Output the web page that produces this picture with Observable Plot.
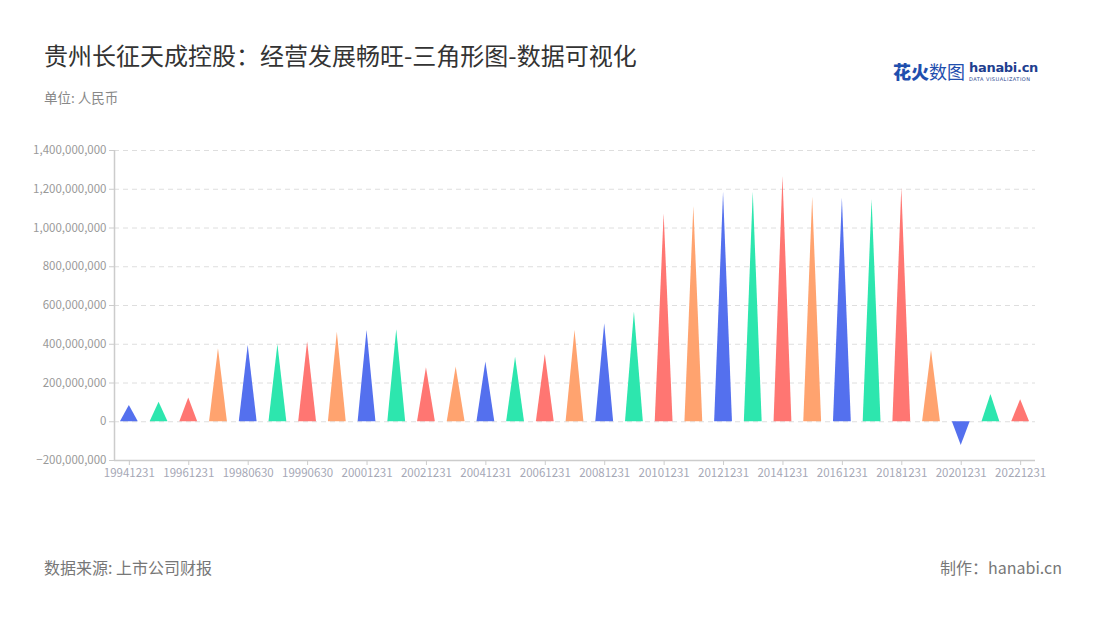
<!DOCTYPE html>
<html>
<head>
<meta charset="utf-8">
<script src="https://cdn.jsdelivr.net/npm/d3@7"></script>
<script src="https://cdn.jsdelivr.net/npm/@observablehq/plot@0.6"></script>
<style>
  html, body { margin: 0; padding: 0; background: #fff; }
  #wrap { position: relative; width: 1100px; height: 620px; font-family: "Noto Sans CJK SC", "Noto Sans", sans-serif; overflow: hidden; }
  #title { position: absolute; left: 44px; top: 37px; font-size: 24px; color: #333; white-space: nowrap; }
  #subtitle { position: absolute; left: 44px; top: 87px; font-size: 13.5px; color: #888; }
  #source { position: absolute; left: 44px; top: 555px; font-size: 16px; color: #777; }
  #maker { position: absolute; right: 38px; top: 555px; font-size: 16px; color: #777; }
  #logo { position: absolute; left: 893px; top: 60px; white-space: nowrap; }
  #logo .cn { font-size: 18px; color: #1f4fae; vertical-align: top; line-height: 22px; }
  #logo .cn b { font-weight: 900; }
  #logo .en { display: inline-block; margin-left: 4px; vertical-align: top; }
  #logo .en .a { font-size: 13px; font-weight: 700; color: #1f3f8f; font-family: "DejaVu Sans", sans-serif; line-height: 16px; letter-spacing: -0.3px; }
  #logo .en .b { font-size: 5px; color: #1f3f8f; letter-spacing: 0.5px; line-height: 6px; font-family: "DejaVu Sans", sans-serif; }
  #chart { position: absolute; left: 0; top: 120px; }
</style>
</head>
<body>
<div id="wrap">
  <div id="title">贵州长征天成控股：经营发展畅旺-三角形图-数据可视化</div>
  <div id="subtitle">单位: 人民币</div>
  <div id="logo"><span class="cn"><b>花火</b>数图</span><span class="en"><div class="a">hanabi.cn</div><div class="b">DATA VISUALIZATION</div></span></div>
  <div id="chart"></div>
  <div id="source">数据来源: 上市公司财报</div>
  <div id="maker">制作：hanabi.cn</div>
</div>
<script>
const categories = [
  "19941231","19951231","19961231","19971231","19980630","19981231","19990630","19991231",
  "20001231","20011231","20021231","20031231","20041231","20051231","20061231","20071231",
  "20081231","20091231","20101231","20111231","20121231","20131231","20141231","20151231",
  "20161231","20171231","20181231","20191231","20201231","20211231","20221231"
];
const values = [
  84e6, 101e6, 122e6, 377e6, 394e6, 397e6, 411e6, 462e6,
  471e6, 475e6, 279e6, 282e6, 308e6, 333e6, 347e6, 471e6,
  506e6, 566e6, 1073e6, 1111e6, 1185e6, 1185e6, 1266e6, 1159e6,
  1154e6, 1147e6, 1207e6, 368e6, -122e6, 141e6, 114e6
];
const palette = ["#5470EE", "#2DE6AE", "#FF7672", "#FFA36F"];
const yTicks = [-200e6, 0, 200e6, 400e6, 600e6, 800e6, 1000e6, 1200e6, 1400e6];

const half = 0.3;
const tri = [];
values.forEach((v, i) => {
  const c = i % 4;
  tri.push({x: i - half, y: 0, i, c}, {x: i, y: v, i, c}, {x: i + half, y: 0, i, c});
});
const labelIdx = categories.map((d, i) => i).filter(i => i % 2 === 0);
const fmt = d3.format(",");

const chart = Plot.plot({
  width: 1100,
  height: 380,
  marginTop: 30,
  marginBottom: 40,
  marginLeft: 114,
  marginRight: 65,
  style: {fontFamily: "'Noto Sans CJK SC', 'Noto Sans', sans-serif", fontSize: "11.5px", color: "#999", background: "transparent"},
  x: {domain: [-0.5, categories.length - 0.5], axis: null},
  y: {domain: [-200e6, 1400e6], axis: null},
  color: {domain: [0, 1, 2, 3], range: palette},
  marks: [
    Plot.ruleY(yTicks.filter(d => d > -200e6), {stroke: "#dedede", strokeDasharray: "5,4"}),
    Plot.areaY(tri, {x: "x", y: "y", z: "i", fill: "c", curve: "linear"}),
    Plot.ruleX([-0.5], {y1: -200e6, y2: 1400e6, stroke: "#cccccc", strokeWidth: 1.5}),
    Plot.ruleY([-200e6], {stroke: "#cccccc", strokeWidth: 1.5}),
    Plot.axisY({ticks: yTicks, tickFormat: fmt, tickSize: 5, tickPadding: 3, stroke: "#cccccc", fill: "#999", anchor: "left", label: null}),
    Plot.axisX({ticks: labelIdx, tickFormat: i => categories[i], tickSize: 5, tickPadding: 3, stroke: "#cccccc", fill: "#a6a8b6", anchor: "bottom", label: null})
  ]
});
document.getElementById("chart").appendChild(chart);
</script>
</body>
</html>
